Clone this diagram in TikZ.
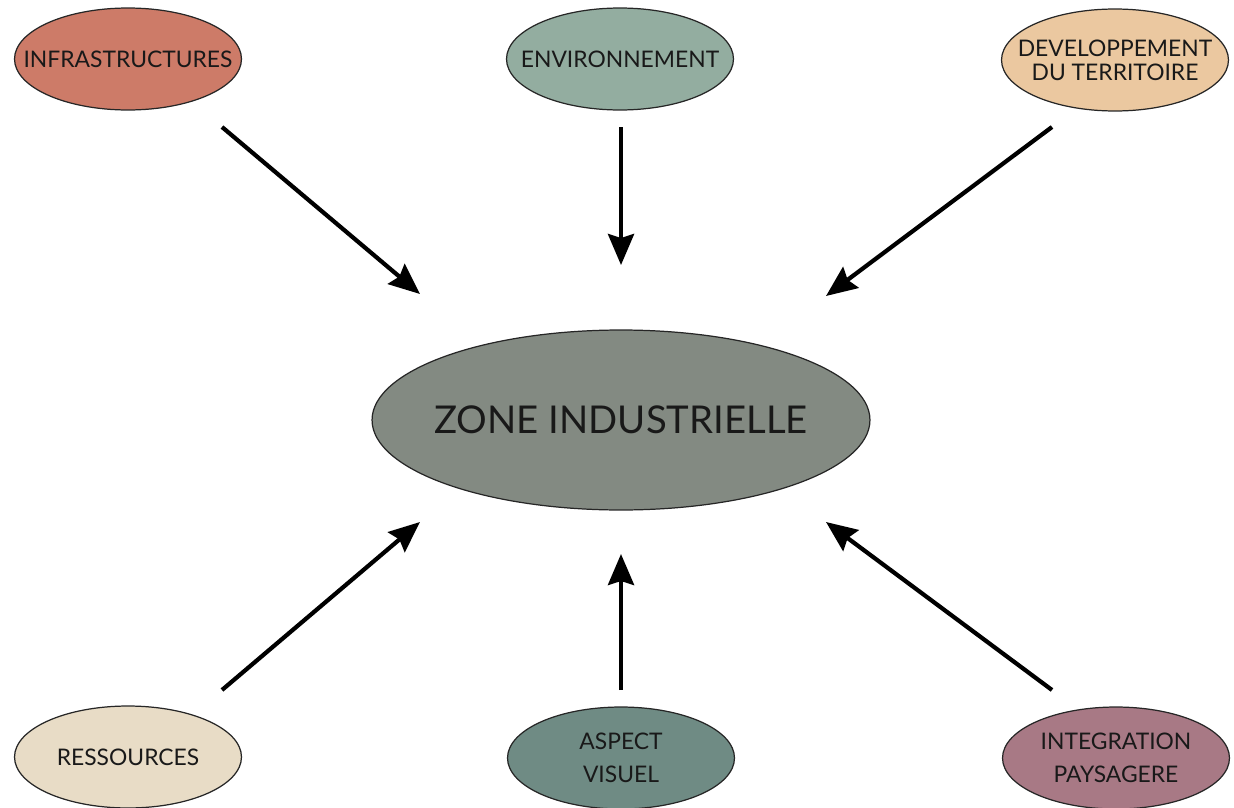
\documentclass[tikz,border=0pt]{standalone}
\usepackage{fontspec}
\setmainfont{Lato}
\usetikzlibrary{shapes.geometric,arrows.meta}
\definecolor{cInfra}{HTML}{CD7B68}
\definecolor{cEnv}{HTML}{93ADA0}
\definecolor{cDev}{HTML}{EBC8A0}
\definecolor{cZone}{HTML}{838A82}
\definecolor{cRes}{HTML}{E8DCC6}
\definecolor{cAsp}{HTML}{6F8B84}
\definecolor{cInt}{HTML}{A87985}
\tikzset{
  px/.style={x=0.02cm,y=-0.02cm},
  bubble/.style={ellipse,draw=black!85,line width=0.7pt,inner xsep=-1.5cm,inner ysep=-0.8cm,
    minimum width=4.54cm,minimum height=2.04cm,align=center,
    font=\fontsize{13}{13.6}\selectfont,text=black!90},
  bigbubble/.style={ellipse,draw=black!85,line width=0.7pt,inner xsep=-2.5cm,inner ysep=-1cm,
    minimum width=9.96cm,minimum height=3.6cm,
    font=\fontsize{21.8}{26}\selectfont,text=black!90},
  flow/.style={line width=2.4pt,-{Stealth[length=0.62cm,width=0.52cm,inset=0.08cm]}}
}
\begin{document}
\begin{tikzpicture}[px]
\useasboundingbox (0,0) rectangle (1234,808);
\node[bigbubble,fill=cZone] (zone) at (621,420) {ZONE INDUSTRIELLE};
\node[bubble,fill=cInfra] (infra) at (128,59) {INFRASTRUCTURES};
\node[bubble,fill=cEnv] (env) at (620,59) {ENVIRONNEMENT};
\node[bubble,fill=cDev] (dev) at (1115,60) {DEVELOPPEMENT\\DU TERRITOIRE};
\node[bubble,fill=cRes] (res) at (128,757) {RESSOURCES};
\node[bubble,fill=cAsp] (asp) at (621,758) {ASPECT\\[5pt]VISUEL};
\node[bubble,fill=cInt] (int) at (1116,758) {INTEGRATION\\[5pt]PAYSAGERE};
\coordinate (a1) at (222,127); \coordinate (b1) at (420,294);
\coordinate (a2) at (621,127); \coordinate (b2) at (621,265);
\coordinate (a3) at (1052,127); \coordinate (b3) at (826,296);
\coordinate (a4) at (222,690); \coordinate (b4) at (420,522);
\coordinate (a5) at (621,690); \coordinate (b5) at (621,554);
\coordinate (a6) at (1052,690); \coordinate (b6) at (826,522);
\draw[flow] (a1) -- (b1);
\draw[flow] (a2) -- (b2);
\draw[flow] (a3) -- (b3);
\draw[flow] (a4) -- (b4);
\draw[flow] (a5) -- (b5);
\draw[flow] (a6) -- (b6);
\end{tikzpicture}
\end{document}
